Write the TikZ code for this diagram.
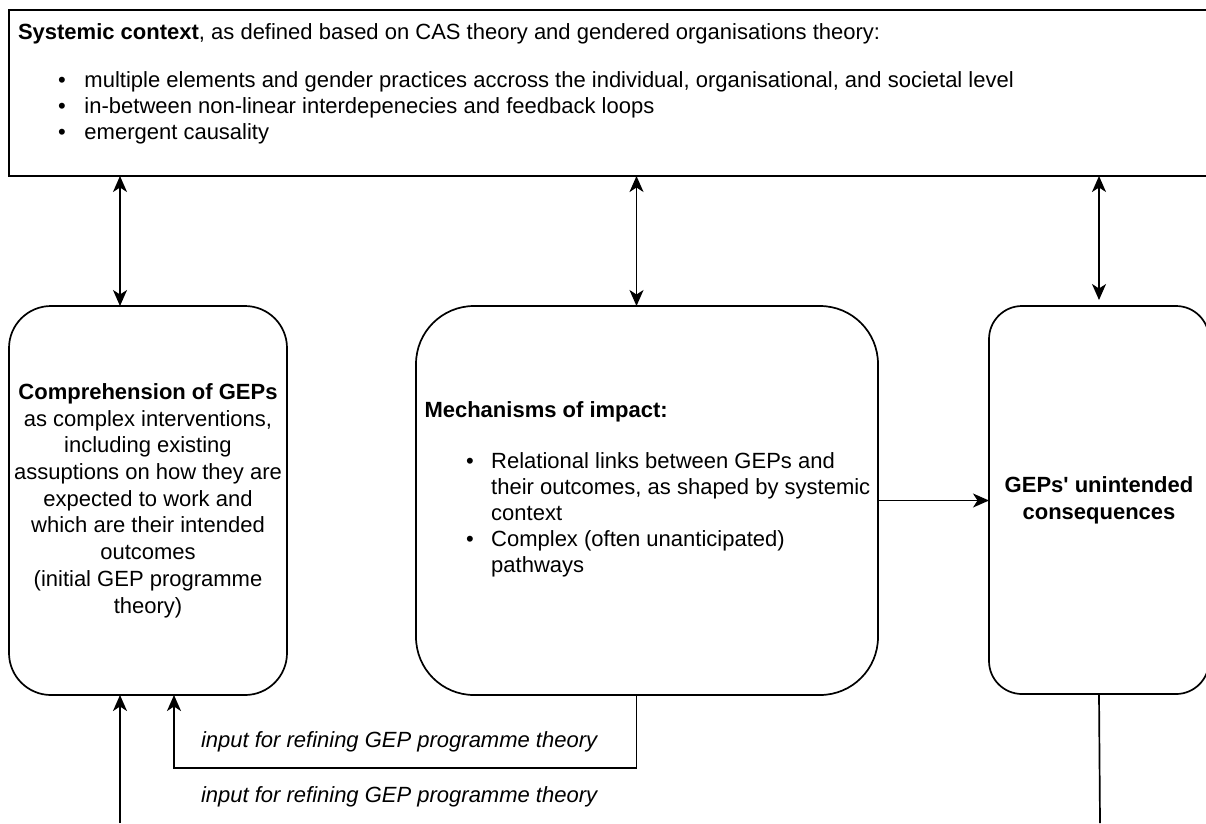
\documentclass[tikz,border=0pt]{standalone}
\usepackage{fontspec}
\setmainfont{Liberation Sans}
\usetikzlibrary{arrows.meta}
\begin{document}
\begin{tikzpicture}[x=1pt,y=-1pt,
  every node/.style={font=\fontsize{22}{26.2}\selectfont, inner sep=0pt, outer sep=0pt},
  frame/.style={draw, line width=1.7pt},
  rbox/.style={draw, line width=1.7pt, rounded corners=#1, align=center},
  wire/.style={line width=1.7pt},
  head/.tip={Stealth[length=16pt,width=14pt,inset=4.5pt]},
  arr/.style={wire, -head},
  both/.style={wire, head-head},
  lbl/.style={anchor=base west, font=\fontsize{22}{26.2}\selectfont\itshape}
]
\useasboundingbox (0,0) rectangle (1206,823);
\clip (0,0) rectangle (1206,823);

% systemic context frame (runs off the right edge)
\node[frame, minimum width=1211pt, minimum height=166pt] (ctx) at (614.5,93) {};
\node[anchor=base west] (ctxhead) at (18,39)
  {\textbf{Systemic context}, as defined based on CAS theory and gendered organisations theory:};
\node[anchor=base west] (ctxlist) at (58.2,87)
  {\begin{tabular}[t]{@{}c@{\hspace{18.6pt}}l@{}}
   \textbullet & multiple elements and gender practices accross the individual, organisational, and societal level\\
   \textbullet & in-between non-linear interdepenecies and feedback loops\\
   \textbullet & emergent causality
   \end{tabular}};

% the three boxes
\node[rbox=42pt, minimum width=278pt, minimum height=389pt,
      font=\fontsize{22}{26.7}\selectfont] (comp) at (148,500.5)
  {\textbf{Comprehension of GEPs}\\as complex interventions,\\including existing\\assuptions on how they are\\expected to work and\\which are their intended\\outcomes\\(initial GEP programme\\theory)};

\node[rbox=58pt, minimum width=462pt, minimum height=389pt] (mech) at (647,500.5) {};
\node[anchor=base west] (mechhead) at (424.5,417) {\textbf{Mechanisms of impact:}};
\node[anchor=base west] (mechlist) at (466.2,468)
  {\begin{tabular}[t]{@{}c@{\hspace{17.3pt}}l@{}}
   \textbullet & Relational links between GEPs and\\
               & their outcomes, as shaped by systemic\\
               & context\\
   \textbullet & Complex (often unanticipated)\\
               & pathways
   \end{tabular}};

\node[rbox=33pt, minimum width=220pt, minimum height=388pt,
      font=\fontsize{22}{27}\selectfont\bfseries] (unint) at (1099,500)
  {GEPs\textquotesingle{} unintended\\consequences};

% helper columns for the vertical connectors
\coordinate (xa) at (120,0);
\coordinate (xb) at (636.5,0);
\coordinate (xc) at (1099,0);
\coordinate (xd) at (174,0);
\coordinate (bend) at (636.5,768);
\coordinate (footA) at (120,823);
\coordinate (footR) at (1100,823);

% links with the systemic context
\draw[both] (ctx.south -| xa) -- (comp.north -| xa);
\draw[both] (ctx.south -| xb) -- (mech.north -| xb);
\draw[both, shorten >=6pt] (ctx.south -| xc) -- (unint.north);

% mechanisms to consequences
\draw[arr] (mech.east) -- (unint.west |- mech.east);

% feedback loops into the programme theory
\draw[arr] (mech.south -| xb) -- (bend) -| (comp.south -| xd);
\draw[arr] (footA) -- (comp.south -| xa);
\draw[wire] (unint.south) -- (footR);

\node[lbl] (fb1) at (201,747) {input for refining GEP programme theory};
\node[lbl] (fb2) at (201,802) {input for refining GEP programme theory};
\end{tikzpicture}
\end{document}
